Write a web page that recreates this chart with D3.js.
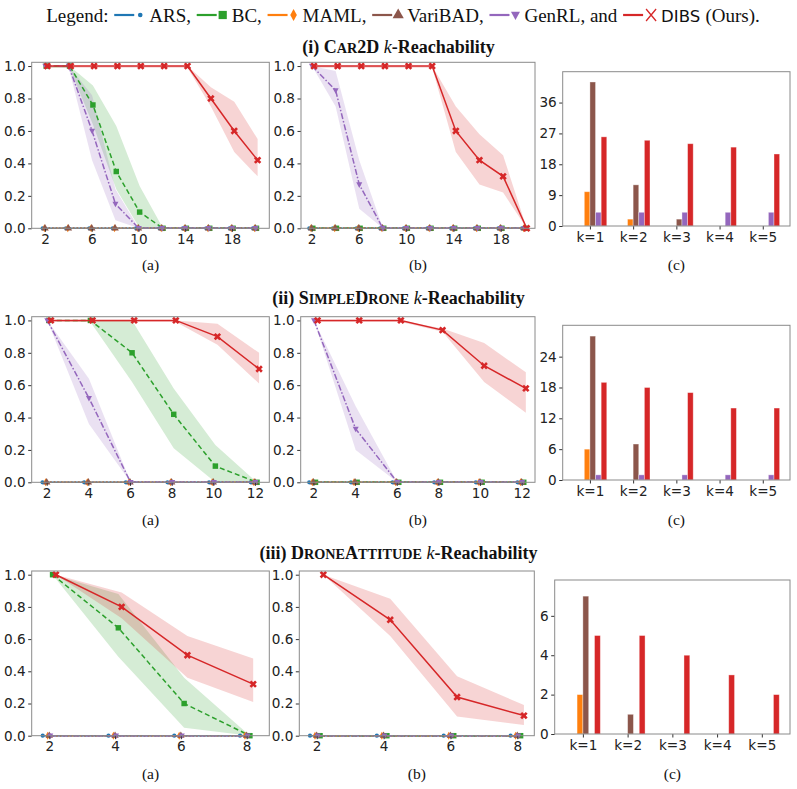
<!DOCTYPE html>
<html>
<head>
<meta charset="utf-8">
<script src="https://cdn.jsdelivr.net/npm/d3@7"></script>
<style>
  body { margin: 0; background: #fff; }
  svg { display: block; }
  .tick text { font-family: 'DejaVu Sans', sans-serif; font-size: 13.6px; fill: #222; }
  .serif { font-family: 'Liberation Serif', 'Times New Roman', serif; }
</style>
</head>
<body>
<script>

// ---- data ----
const seriesNames = ['ARS', 'BC', 'MAML', 'VariBAD', 'GenRL', 'DIBS'];

// k steps on the x axis of the line panels
const stepsCar2D = [2, 4, 6, 8, 10, 12, 14, 16, 18, 20];
const stepsDrone = [2, 4, 6, 8, 10, 12];
const stepsAttitude = [2, 4, 6, 8];

// (i) Car2D, panel (a)
const car2dA_zero    = [0, 0, 0, 0, 0, 0, 0, 0, 0, 0];
const car2dA_BC      = [1, 1, 0.76, 0.35, 0.1, 0, 0, 0, 0, 0];
const car2dA_BC_lo   = [0.99, 0.99, 0.64, 0.24, 0, 0, 0, 0, 0, 0];
const car2dA_BC_hi   = [1, 1, 0.88, 0.63, 0.26, 0, 0, 0, 0, 0];
const car2dA_Gen     = [1, 1, 0.6, 0.15, 0, 0, 0, 0, 0, 0];
const car2dA_Gen_lo  = [1, 0.99, 0.42, 0.05, 0, 0, 0, 0, 0, 0];
const car2dA_Gen_hi  = [1, 1, 0.82, 0.24, 0, 0, 0, 0, 0, 0];
const car2dA_DIBS    = [1, 1, 1, 1, 1, 1, 1, 0.8, 0.6, 0.42];
const car2dA_DIBS_lo = [0.99, 0.99, 0.99, 0.99, 0.99, 0.99, 0.99, 0.75, 0.47, 0.32];
const car2dA_DIBS_hi = [1, 1, 1, 1, 1, 1, 1, 0.87, 0.78, 0.55];

// (i) Car2D, panel (b)
const car2dB_Gen     = [1, 0.85, 0.27, 0, 0, 0, 0, 0, 0, 0];
const car2dB_Gen_lo  = [1, 0.75, 0.12, 0, 0, 0, 0, 0, 0, 0];
const car2dB_Gen_hi  = [1, 0.97, 0.42, 0, 0, 0, 0, 0, 0, 0];
const car2dB_DIBS    = [1, 1, 1, 1, 1, 1, 0.6, 0.42, 0.32, 0];
const car2dB_DIBS_lo = [0.99, 0.99, 0.99, 0.99, 0.99, 0.99, 0.47, 0.27, 0.22, 0];
const car2dB_DIBS_hi = [1, 1, 1, 1, 1, 1, 0.75, 0.58, 0.45, 0];

// (ii) SimpleDrone, panel (a)
const droneA_zero    = [0, 0, 0, 0, 0, 0];
const droneA_BC      = [1, 1, 0.8, 0.42, 0.1, 0];
const droneA_BC_lo   = [1, 0.99, 0.62, 0.21, 0, 0];
const droneA_BC_hi   = [1, 1, 1, 0.58, 0.23, 0];
const droneA_Gen     = [1, 0.52, 0, 0, 0, 0];
const droneA_Gen_lo  = [1, 0.36, 0, 0, 0, 0];
const droneA_Gen_hi  = [1, 0.64, 0, 0, 0, 0];
const droneA_DIBS    = [1, 1, 1, 1, 0.9, 0.7];
const droneA_DIBS_lo = [0.99, 0.99, 0.99, 0.99, 0.85, 0.61];
const droneA_DIBS_hi = [1, 1, 1, 1, 0.98, 0.8];

// (ii) SimpleDrone, panel (b)
const droneB_Gen     = [1, 0.33, 0, 0, 0, 0];
const droneB_Gen_lo  = [1, 0.2, 0, 0, 0, 0];
const droneB_Gen_hi  = [1, 0.47, 0, 0, 0, 0];
const droneB_DIBS    = [1, 1, 1, 0.94, 0.72, 0.58];
const droneB_DIBS_lo = [0.99, 0.99, 0.99, 0.93, 0.62, 0.43];
const droneB_DIBS_hi = [1, 1, 1, 0.95, 0.86, 0.68];

// (iii) DroneAttitude, panel (a)
const attA_zero      = [0, 0, 0, 0];
const attA_BC        = [1, 0.67, 0.2, 0];
const attA_BC_lo     = [1, 0.49, 0.05, 0];
const attA_BC_hi     = [1, 0.88, 0.36, 0];
const attA_DIBS      = [1, 0.8, 0.5, 0.32];
const attA_DIBS_lo   = [1, 0.73, 0.36, 0.21];
const attA_DIBS_hi   = [1, 0.89, 0.62, 0.48];

// (iii) DroneAttitude, panel (b)
const attB_DIBS      = [1, 0.72, 0.24, 0.125];
const attB_DIBS_lo   = [1, 0.62, 0.12, 0.066];
const attB_DIBS_hi   = [1, 0.85, 0.37, 0.19];

// bar panels (c): counts per k
const kLabels = ['k=1', 'k=2', 'k=3', 'k=4', 'k=5'];
const car2dBars_ARS     = [0, 0, 0, 0, 0];
const car2dBars_BC      = [0, 0, 0, 0, 0];
const car2dBars_MAML    = [10, 2, 0, 0, 0];
const car2dBars_VariBAD = [42, 12, 2, 0, 0];
const car2dBars_GenRL   = [4, 4, 4, 4, 4];
const car2dBars_DIBS    = [26, 25, 24, 23, 21];

const droneBars_ARS     = [0, 0, 0, 0, 0];
const droneBars_BC      = [0, 0, 0, 0, 0];
const droneBars_MAML    = [6, 0, 0, 0, 0];
const droneBars_VariBAD = [28, 7, 0, 0, 0];
const droneBars_GenRL   = [1, 1, 1, 1, 1];
const droneBars_DIBS    = [19, 18, 17, 14, 14];

const attBars_ARS       = [0, 0, 0, 0, 0];
const attBars_BC        = [0, 0, 0, 0, 0];
const attBars_MAML      = [2, 0, 0, 0, 0];
const attBars_VariBAD   = [7, 1, 0, 0, 0];
const attBars_GenRL     = [0, 0, 0, 0, 0];
const attBars_DIBS      = [5, 5, 4, 3, 2];

const barTicksCar2D = [0, 9, 18, 27, 36];
const barTicksDrone = [0, 6, 12, 18, 24];
const barTicksAtt   = [0, 2, 4, 6];

// ---- styles ----
const colors = {ARS: '#1f77b4', BC: '#2ca02c', MAML: '#ff7f0e', VariBAD: '#8c564b', GenRL: '#9467bd', DIBS: '#d62728'};
const dashes = {ARS: null, BC: '5,3', MAML: '2,2', VariBAD: '1.5,2', GenRL: '6,2,1.5,2', DIBS: null};
const xShift = {ARS: -0.2, BC: 0.1, MAML: -0.05, VariBAD: 0, GenRL: 0.03, DIBS: 0.2};

function markerPath(name) {
  if (name === 'ARS') return d3.symbol(d3.symbolCircle, 14)();
  if (name === 'BC') return d3.symbol(d3.symbolSquare, 30)();
  if (name === 'MAML') return 'M0,-4L2.2,0L0,4L-2.2,0Z';
  if (name === 'VariBAD') return d3.symbol(d3.symbolTriangle, 24)();
  if (name === 'GenRL') return 'M-3,-2.2L3,-2.2L0,3.4Z';
  return d3.symbol(d3.symbolCross, 34)();
}
const markerRot = name => name === 'DIBS' ? 45 : 0;

// ---- layout ----
const W = 797, H = 789;
const svg = d3.select('body').append('svg').attr('width', W).attr('height', H);

const rows = [
  {
    title: [['(i) ', 18], ['C', 18], ['AR', 14.2], ['2D', 18]], titleY: 53, subY: 270,
    steps: stepsCar2D, xTicks: [2, 6, 10, 14, 18],
    lineTop: 62.3, lineBottom: 228.3,
    a: {x0: 31.7, x1: 269.3, dom: [0.86, 21.2], series: {
      ARS: [car2dA_zero], MAML: [car2dA_zero], VariBAD: [car2dA_zero],
      BC: [car2dA_BC, car2dA_BC_lo, car2dA_BC_hi],
      GenRL: [car2dA_Gen, car2dA_Gen_lo, car2dA_Gen_hi],
      DIBS: [car2dA_DIBS, car2dA_DIBS_lo, car2dA_DIBS_hi]}},
    b: {x0: 301, x1: 535, dom: [1.1, 20.9], series: {
      ARS: [car2dA_zero], BC: [car2dA_zero], MAML: [car2dA_zero], VariBAD: [car2dA_zero],
      GenRL: [car2dB_Gen, car2dB_Gen_lo, car2dB_Gen_hi],
      DIBS: [car2dB_DIBS, car2dB_DIBS_lo, car2dB_DIBS_hi]}},
    bar: {x0: 562.7, x1: 790, top: 71.7, bottom: 226, ymax: 45, ticks: barTicksCar2D,
      values: {ARS: car2dBars_ARS, BC: car2dBars_BC, MAML: car2dBars_MAML, VariBAD: car2dBars_VariBAD, GenRL: car2dBars_GenRL, DIBS: car2dBars_DIBS}}
  },
  {
    title: [['(ii) ', 18], ['S', 18], ['IMPLE', 14.2], ['D', 18], ['RONE', 14.2]], titleY: 304, subY: 525,
    steps: stepsDrone, xTicks: [2, 4, 6, 8, 10, 12],
    lineTop: 316.7, lineBottom: 482.3,
    a: {x0: 31.7, x1: 269.3, dom: [1.28, 12.69], series: {
      ARS: [droneA_zero], MAML: [droneA_zero], VariBAD: [droneA_zero],
      BC: [droneA_BC, droneA_BC_lo, droneA_BC_hi],
      GenRL: [droneA_Gen, droneA_Gen_lo, droneA_Gen_hi],
      DIBS: [droneA_DIBS, droneA_DIBS_lo, droneA_DIBS_hi]}},
    b: {x0: 300.7, x1: 535, dom: [1.39, 12.64], series: {
      ARS: [droneA_zero], BC: [droneA_zero], MAML: [droneA_zero], VariBAD: [droneA_zero],
      GenRL: [droneB_Gen, droneB_Gen_lo, droneB_Gen_hi],
      DIBS: [droneB_DIBS, droneB_DIBS_lo, droneB_DIBS_hi]}},
    bar: {x0: 562.7, x1: 790, top: 325.3, bottom: 480, ymax: 30.1, ticks: barTicksDrone,
      values: {ARS: droneBars_ARS, BC: droneBars_BC, MAML: droneBars_MAML, VariBAD: droneBars_VariBAD, GenRL: droneBars_GenRL, DIBS: droneBars_DIBS}}
  },
  {
    title: [['(iii) ', 18], ['D', 18], ['RONE', 14.2], ['A', 18], ['TTITUDE', 14.2]], titleY: 559, subY: 779,
    steps: stepsAttitude, xTicks: [2, 4, 6, 8],
    lineTop: 571, lineBottom: 735.7,
    a: {x0: 31.7, x1: 269.3, dom: [1.465, 8.69], series: {
      ARS: [attA_zero], MAML: [attA_zero], VariBAD: [attA_zero], GenRL: [attA_zero],
      BC: [attA_BC, attA_BC_lo, attA_BC_hi],
      DIBS: [attA_DIBS, attA_DIBS_lo, attA_DIBS_hi]}},
    b: {x0: 299.3, x1: 534.3, dom: [1.48, 8.51], series: {
      ARS: [attA_zero], BC: [attA_zero], MAML: [attA_zero], VariBAD: [attA_zero], GenRL: [attA_zero],
      DIBS: [attB_DIBS, attB_DIBS_lo, attB_DIBS_hi]}},
    bar: {x0: 554.7, x1: 790, top: 580, bottom: 734, ymax: 7.82, ticks: barTicksAtt,
      values: {ARS: attBars_ARS, BC: attBars_BC, MAML: attBars_MAML, VariBAD: attBars_VariBAD, GenRL: attBars_GenRL, DIBS: attBars_DIBS}}
  }
];

// ---- legend ----
function drawLegend() {
  const lg = svg.append('g').attr('class', 'legend');
  let x = 0;
  const y = 22;
  const addText = (s, fam, fs) => {
    const t = lg.append('text').attr('x', x).attr('y', y).text(s)
      .style('font-family', fam || "'Liberation Serif', serif").style('font-size', (fs || 19) + 'px')
      .style('white-space', 'pre').attr('fill', '#111');
    x += t.node().getComputedTextLength();
    return t;
  };
  addText('Legend: ');
  const labels = {ARS: 'ARS, ', BC: 'BC, ', MAML: 'MAML, ', VariBAD: 'VariBAD, ', GenRL: 'GenRL, and ', DIBS: ''};
  seriesNames.forEach(name => {
    lg.append('line').attr('x1', x + 1).attr('x2', x + 21).attr('y1', y - 7).attr('y2', y - 7)
      .attr('stroke', colors[name]).attr('stroke-width', 2.2);
    if (name === 'DIBS') {
      lg.append('path').attr('d', 'M-5,-6L5,6M-5,6L5,-6')
        .attr('transform', `translate(${x + 29},${y - 7})`)
        .attr('stroke', colors[name]).attr('stroke-width', 1.3).attr('fill', 'none');
      x += 39;
      addText('DIBS ', "'DejaVu Sans', sans-serif", 16.5);
      addText('(Ours).');
    } else {
      lg.append('path').attr('d', markerPath(name))
        .attr('transform', `translate(${x + 27},${y - 7}) scale(${name === 'ARS' ? 1.1 : 1.5})`)
        .attr('fill', colors[name]);
      x += 36;
      addText(labels[name]);
    }
  });
  lg.attr('transform', `translate(${(W - x) / 2 + 4.5},0)`);
}
drawLegend();

// ---- titles ----
function drawTitle(row) {
  const t = svg.append('text').attr('class', 'serif').attr('y', row.titleY)
    .attr('fill', '#111').style('font-weight', 'bold').style('white-space', 'pre');
  row.title.forEach(([s, fs]) => t.append('tspan').text(s).style('font-size', fs + 'px'));
  t.append('tspan').text(' k').style('font-size', '18px').style('font-style', 'italic').style('font-weight', 'normal');
  t.append('tspan').text('-Reachability').style('font-size', '18px');
  const w = t.node().getComputedTextLength();
  t.attr('x', (W - w) / 2);
}

// ---- line panels ----
function drawLinePanel(row, panel, label) {
  const g = svg.append('g');
  const x = d3.scaleLinear().domain(panel.dom).range([panel.x0, panel.x1]);
  const y = d3.scaleLinear().domain([0, 1.023]).range([row.lineBottom, row.lineTop]);

  // bands
  seriesNames.forEach(name => {
    const s = panel.series[name];
    if (!s || s.length < 3) return;
    const pts = row.steps.map((k, i) => ({k: k + xShift[name], lo: s[1][i], hi: s[2][i]}));
    g.append('path').datum(pts)
      .attr('d', d3.area().x(d => x(d.k)).y0(d => y(d.lo)).y1(d => y(d.hi)))
      .attr('fill', colors[name]).attr('fill-opacity', 0.2);
  });

  // lines and markers
  seriesNames.forEach(name => {
    const s = panel.series[name];
    const pts = row.steps.map((k, i) => ({k: k + xShift[name], v: s[0][i]}));
    g.append('path').datum(pts)
      .attr('d', d3.line().x(d => x(d.k)).y(d => y(d.v)))
      .attr('fill', 'none').attr('stroke', colors[name]).attr('stroke-width', 1.5)
      .attr('stroke-dasharray', dashes[name]);
    g.selectAll(null).data(pts).join('path')
      .attr('d', markerPath(name))
      .attr('transform', d => `translate(${x(d.k)},${y(d.v)}) rotate(${markerRot(name)})`)
      .attr('fill', colors[name]);
  });

  // axes
  g.append('g').attr('transform', `translate(0,${row.lineBottom})`)
    .call(d3.axisBottom(x).tickValues(row.xTicks).tickSize(3.5).tickPadding(2.5).tickFormat(d3.format('d')))
    .call(a => a.select('.domain').remove());
  g.append('g').attr('transform', `translate(${panel.x0},0)`)
    .call(d3.axisLeft(y).tickValues([0, 0.2, 0.4, 0.6, 0.8, 1.0]).tickSize(3.5).tickPadding(2.5).tickFormat(d3.format('.1f')))
    .call(a => a.select('.domain').remove());
  g.selectAll('.tick line').attr('stroke', '#333');

  g.append('rect').attr('x', panel.x0).attr('y', row.lineTop)
    .attr('width', panel.x1 - panel.x0).attr('height', row.lineBottom - row.lineTop)
    .attr('fill', 'none').attr('stroke', '#8a8a8a').attr('stroke-width', 1);

  svg.append('text').attr('class', 'serif').attr('x', (panel.x0 + panel.x1) / 2).attr('y', row.subY)
    .attr('text-anchor', 'middle').style('font-size', '15.5px').attr('fill', '#111').text(label);
}

// ---- bar panels ----
function drawBarPanel(row) {
  const b = row.bar;
  const g = svg.append('g');
  const bw = 0.13;
  const x = d3.scaleLinear().domain([0.37, 5.63]).range([b.x0, b.x1]);
  const y = d3.scaleLinear().domain([0, b.ymax]).range([b.bottom, b.top]);

  seriesNames.forEach((name, j) => {
    const vals = b.values[name].map((v, i) => ({k: i + 1, v}));
    g.selectAll(null).data(vals.filter(d => d.v > 0)).join('rect')
      .attr('x', d => x(d.k + (j - 3) * bw))
      .attr('width', x(bw) - x(0))
      .attr('y', d => y(d.v))
      .attr('height', d => y(0) - y(d.v))
      .attr('fill', colors[name])
      .attr('stroke', 'rgba(255,255,255,0.45)').attr('stroke-width', 0.8);
  });

  g.append('g').attr('transform', `translate(0,${b.bottom})`)
    .call(d3.axisBottom(x).tickValues([1, 2, 3, 4, 5]).tickSize(3.5).tickPadding(2.5).tickFormat((d, i) => kLabels[i]))
    .call(a => a.select('.domain').remove());
  g.append('g').attr('transform', `translate(${b.x0},0)`)
    .call(d3.axisLeft(y).tickValues(b.ticks).tickSize(3.5).tickPadding(2.5).tickFormat(d3.format('d')))
    .call(a => a.select('.domain').remove());
  g.selectAll('.tick line').attr('stroke', '#333');

  g.append('rect').attr('x', b.x0).attr('y', b.top)
    .attr('width', b.x1 - b.x0).attr('height', b.bottom - b.top)
    .attr('fill', 'none').attr('stroke', '#8a8a8a').attr('stroke-width', 1);

  svg.append('text').attr('class', 'serif').attr('x', (b.x0 + b.x1) / 2).attr('y', row.subY)
    .attr('text-anchor', 'middle').style('font-size', '15.5px').attr('fill', '#111').text('(c)');
}

rows.forEach(row => {
  drawTitle(row);
  drawLinePanel(row, row.a, '(a)');
  drawLinePanel(row, row.b, '(b)');
  drawBarPanel(row);
});

</script>
</body>
</html>
